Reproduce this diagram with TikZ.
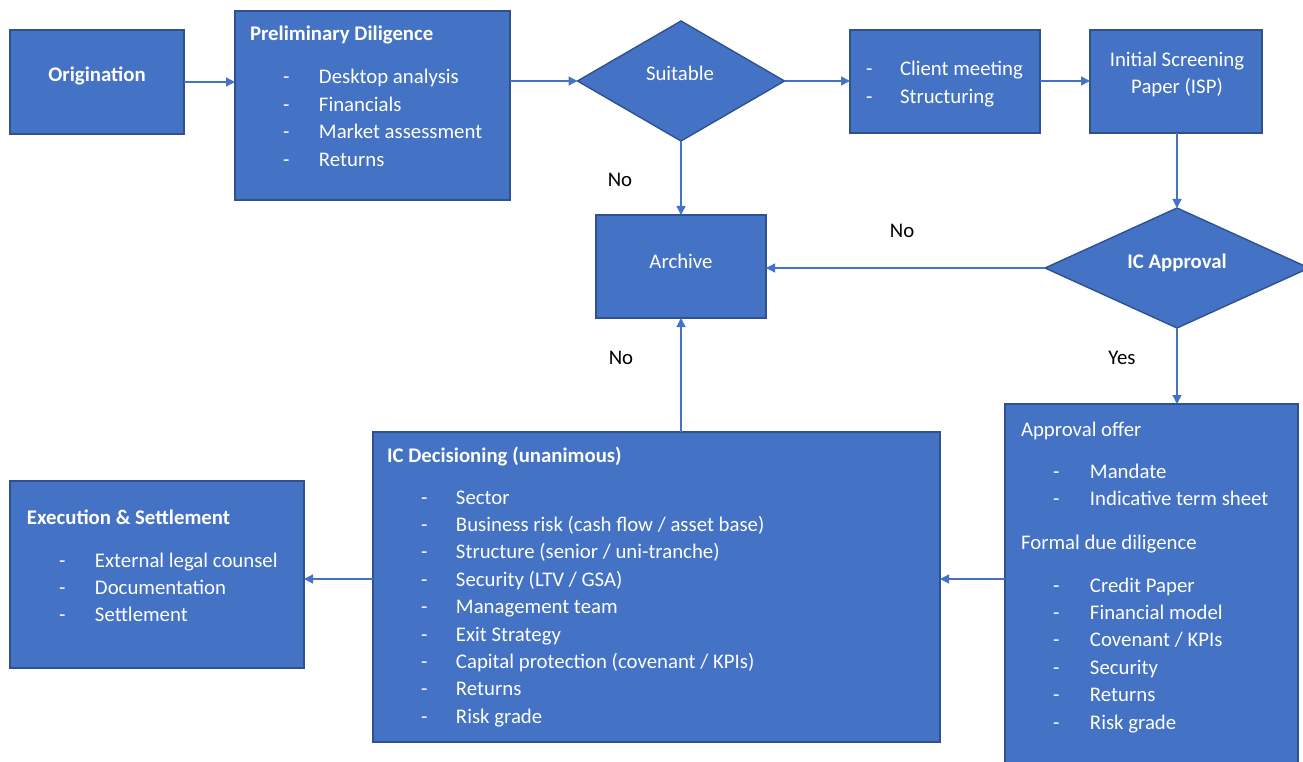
\documentclass[tikz,border=0pt]{standalone}
\usepackage{fontspec}
\setmainfont{Carlito}
\usetikzlibrary{arrows.meta,shapes.geometric}
\definecolor{boxblue}{HTML}{4472C4}
\definecolor{boxedge}{HTML}{2F528F}
\definecolor{linkblue}{HTML}{4472C4}
\begin{document}
\begin{tikzpicture}[x=1pt,y=-1pt,
  box/.style={draw=boxedge,fill=boxblue,line width=1.4pt,inner sep=0pt,outer sep=0pt},
  dia/.style={diamond,draw=boxedge,fill=boxblue,line width=1.4pt,inner sep=0pt,outer sep=0pt},
  txt/.style={inner sep=0pt,outer sep=0pt,text=white,font=\fontsize{20.8}{27.4}\selectfont},
  lbl/.style={inner sep=0pt,outer sep=0pt,text=black,font=\fontsize{20.8}{27.4}\selectfont},
  link/.style={draw=linkblue,line width=1.3pt,-{Triangle[width=9pt,length=9pt]}}]
\useasboundingbox (0,0) rectangle (1303,762);
\fill[white] (0,0) rectangle (1303,762);

% boxes
\node[box,minimum width=174pt,minimum height=104pt] (orig) at (97,82) {};
\node[box,minimum width=275pt,minimum height=189pt] (pd) at (372.5,105.5) {};
\node[dia,minimum width=207pt,minimum height=120pt] (suit) at (681,81) {};
\node[box,minimum width=190pt,minimum height=103pt] (client) at (945,81.5) {};
\node[box,minimum width=172pt,minimum height=103pt] (isp) at (1176,81.5) {};
\node[dia,minimum width=264pt,minimum height=120pt] (icapp) at (1177,268) {};
\node[box,minimum width=170pt,minimum height=103pt] (archive) at (681,266.5) {};
\node[box,minimum width=293pt,minimum height=371pt] (offer) at (1151.5,589.5) {};
\node[box,minimum width=567pt,minimum height=310pt] (icdec) at (656.5,587) {};
\node[box,minimum width=294pt,minimum height=187pt] (exec) at (157,574.5) {};

% texts
\node[txt,anchor=base] (orig-t) at (97,82) {\bfseries Origination};
\node[txt,anchor=base west] (pd-t) at (250,41) {\bfseries Preliminary Diligence};
\node[txt,anchor=base west] (pd-l) at (283,84) {\begin{tabular}[t]{@{}p{36pt}@{}l@{}}
- & Desktop analysis\\
- & Financials\\
- & Market assessment\\
- & Returns
\end{tabular}};
\node[txt,anchor=base] (suit-t) at (680,81) {Suitable};
\node[txt,anchor=base west] (client-l) at (866,76) {\begin{tabular}[t]{@{}p{34pt}@{}l@{}}
- & Client meeting\\
- & Structuring
\end{tabular}};
\node[txt,anchor=base] (isp-t1) at (1177,67) {Initial Screening};
\node[txt,anchor=base] (isp-t2) at (1177,94) {Paper (ISP)};
\node[txt,anchor=base] (icapp-t) at (1177,268) {\bfseries IC Approval};
\node[txt,anchor=base] (archive-t) at (681,268) {Archive};

\node[txt,anchor=base west] (offer-t1) at (1021,436) {Approval offer};
\node[txt,anchor=base west] (offer-l1) at (1053,478) {\begin{tabular}[t]{@{}p{37pt}@{}l@{}}
- & Mandate\\
- & Indicative term sheet
\end{tabular}};
\node[txt,anchor=base west] (offer-t2) at (1021,549) {Formal due diligence};
\node[txt,anchor=base west] (offer-l2) at (1053,592) {\begin{tabular}[t]{@{}p{37pt}@{}l@{}}
- & Credit Paper\\
- & Financial model\\
- & Covenant / KPIs\\
- & Security\\
- & Returns\\
- & Risk grade
\end{tabular}};

\node[txt,anchor=base west] (icdec-t) at (387,462) {\bfseries IC Decisioning (unanimous)};
\node[txt,anchor=base west] (icdec-l) at (421,504) {\begin{tabular}[t]{@{}p{35pt}@{}l@{}}
- & Sector\\
- & Business risk (cash flow / asset base)\\
- & Structure (senior / uni-tranche)\\
- & Security (LTV / GSA)\\
- & Management team\\
- & Exit Strategy\\
- & Capital protection (covenant / KPIs)\\
- & Returns\\
- & Risk grade
\end{tabular}};

\node[txt,anchor=base west] (exec-t) at (27,524) {\bfseries Execution \& Settlement};
\node[txt,anchor=base west] (exec-l) at (59,567) {\begin{tabular}[t]{@{}p{36pt}@{}l@{}}
- & External legal counsel\\
- & Documentation\\
- & Settlement
\end{tabular}};

% labels
\node[lbl,anchor=base] (no1) at (620,186) {No};
\node[lbl,anchor=base] (no2) at (902,237) {No};
\node[lbl,anchor=base] (no3) at (621,364) {No};
\node[lbl,anchor=base] (yes) at (1122,364) {Yes};

% connectors
\coordinate (j1) at (0,579);
\draw[link] (orig.east) -- (orig.east -| pd.west);
\draw[link] (suit.west -| pd.east) -- (suit.west);
\draw[link] (suit.east) -- (suit.east -| client.west);
\draw[link] (suit.east -| client.east) -- (suit.east -| isp.west);
\draw[link] (isp.south -| icapp.north) -- (icapp.north);
\draw[link] (suit.south) -- (suit.south |- archive.north);
\draw[link] (icapp.west) -- (icapp.west -| archive.east);
\draw[link] (icapp.south) -- (icapp.south |- offer.north);
\draw[link] (offer.west |- j1) -- (icdec.east |- j1);
\draw[link] (archive.south |- icdec.north) -- (archive.south);
\draw[link] (icdec.west |- j1) -- (exec.east |- j1);
\end{tikzpicture}
\end{document}
